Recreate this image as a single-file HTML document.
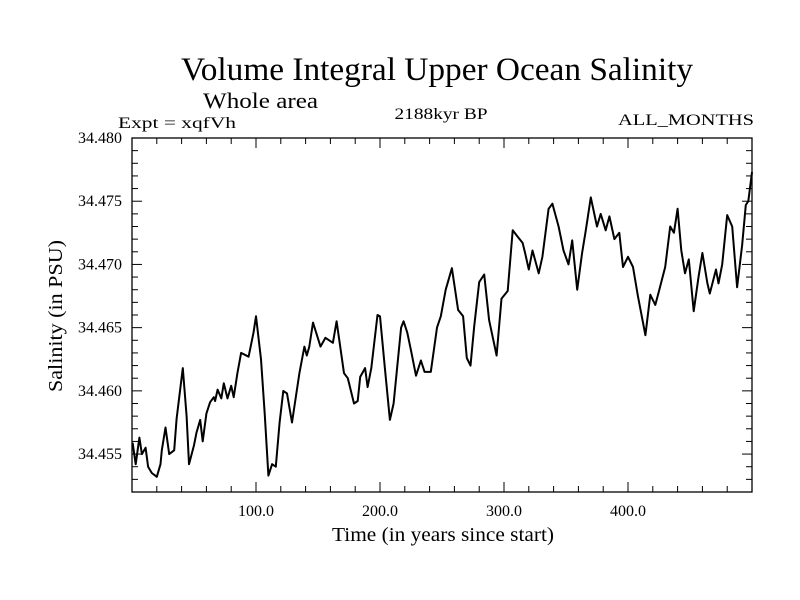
<!DOCTYPE html>
<html><head><meta charset="utf-8"><style>
body{margin:0;background:#fff}
svg{display:block;font-family:"Liberation Serif",serif}
</style></head><body>
<svg id="chart" width="800" height="600" viewBox="0 0 800 600">
<rect width="800" height="600" fill="#fff"/>
<text x="437" y="80" font-size="33" text-anchor="middle" textLength="512" lengthAdjust="spacingAndGlyphs">Volume Integral Upper Ocean Salinity</text>
<text x="203" y="108" font-size="22" textLength="115" lengthAdjust="spacingAndGlyphs">Whole area</text>
<text x="118" y="128" font-size="16" textLength="118" lengthAdjust="spacingAndGlyphs">Expt = xqfVh</text>
<text x="441" y="119" font-size="16" text-anchor="middle" textLength="93" lengthAdjust="spacingAndGlyphs">2188kyr BP</text>
<text x="754" y="125" font-size="16" text-anchor="end" textLength="136" lengthAdjust="spacingAndGlyphs">ALL_MONTHS</text>
<g id="axes"></g>
<text x="443" y="541" font-size="20" text-anchor="middle" textLength="222" lengthAdjust="spacingAndGlyphs">Time (in years since start)</text>
<text transform="translate(62,316) rotate(-90)" font-size="20" text-anchor="middle" textLength="152" lengthAdjust="spacingAndGlyphs">Salinity (in PSU)</text>
</svg>
<script>
const years=[0.5,3,6,8,11,13,16,20,23,24,27,30,34,36,41,44,46,50,52,55,57,60,63,66,67,69,72,74,77,80,82,85,88,94,98,100,104,107,110,113,116,119,122,125,129,135,139,141,143,146,152,156,162,165,171,174,179,182,184,188,190,193,198,200,204,208,211,217,219,222,225,229,233,236,241,246,249,253,258,263,267,270,273,276,280,284,288,294,298,303,307,311,315,317,320,323,328,331,336,339,344,348,352,355,359,363,366,370,375,378,382,385,389,393,396,400,404,408,414,418,422,425,430,434,437,440,443,446,449,453,457,460,464,466,471,473,476,480,484,488,492,495,497,500];
const salinity=[34.4559,34.4542,34.4563,34.4550,34.4555,34.4540,34.4535,34.4532,34.4542,34.4553,34.4571,34.4550,34.4553,34.4578,34.4618,34.4580,34.4542,34.4557,34.4567,34.4577,34.4560,34.4582,34.4591,34.4595,34.4592,34.4601,34.4594,34.4606,34.4594,34.4604,34.4595,34.4614,34.4630,34.4627,34.4646,34.4659,34.4625,34.4582,34.4533,34.4542,34.4540,34.4575,34.4600,34.4598,34.4575,34.4614,34.4635,34.4628,34.4635,34.4654,34.4635,34.4642,34.4638,34.4655,34.4614,34.4610,34.4590,34.4592,34.4611,34.4618,34.4603,34.4618,34.4660,34.4659,34.4617,34.4577,34.4590,34.4650,34.4655,34.4646,34.4632,34.4612,34.4624,34.4615,34.4615,34.4650,34.4659,34.4680,34.4697,34.4664,34.4659,34.4626,34.4620,34.4651,34.4686,34.4692,34.4656,34.4628,34.4673,34.4679,34.4727,34.4722,34.4717,34.4709,34.4696,34.4711,34.4693,34.4706,34.4744,34.4748,34.4730,34.4711,34.4700,34.4719,34.4680,34.4709,34.4727,34.4753,34.4730,34.4740,34.4727,34.4738,34.4720,34.4725,34.4698,34.4706,34.4698,34.4675,34.4644,34.4676,34.4668,34.4679,34.4698,34.4730,34.4725,34.4744,34.4711,34.4693,34.4704,34.4663,34.4691,34.4709,34.4685,34.4677,34.4696,34.4685,34.4700,34.4739,34.4730,34.4682,34.4715,34.4747,34.4750,34.4773];
const xTicks=[100,200,300,400];
const xTickLabels=["100.0","200.0","300.0","400.0"];
const yTicks=[34.455,34.460,34.465,34.470,34.475,34.480];
const yTickLabels=["34.455","34.460","34.465","34.470","34.475","34.480"];

const L=132,R=752,T=138,B=492;
const X0=0,X1=500,Y0=34.452,Y1=34.480;
const xs=v=>L+(v-X0)/(X1-X0)*(R-L);
const ys=v=>B-(v-Y0)/(Y1-Y0)*(B-T);
const NS="http://www.w3.org/2000/svg";
const g=document.getElementById('axes');
function mk(tag,attrs){const e=document.createElementNS(NS,tag);for(const k in attrs)e.setAttribute(k,attrs[k]);g.appendChild(e);return e;}
const frame=mk('rect',{x:L,y:T,width:R-L,height:B-T,fill:'none',stroke:'#000','stroke-width':1.3});


// minor x ticks every 20 years
for(let v=20;v<X1;v+=20){
  const major=v%100===0, len=major?10:6;
  const t1=mk('line',{x1:xs(v),x2:xs(v),y1:B,y2:B-len,stroke:'#000','stroke-width':1});
  
  
  const t2=mk('line',{x1:xs(v),x2:xs(v),y1:T,y2:T+len,stroke:'#000','stroke-width':1});
  
  
}
xTicks.forEach((v,i)=>{
  const t=mk('text',{x:xs(v),y:B+24,'font-size':16,'text-anchor':'middle'});
  t.textContent=xTickLabels[i];
  
  
});
for(let k=0;k<=28;k++){
  const v=Y0+k*0.001; if(v>Y1+1e-9)break;
  const major=Math.abs(Math.round(v*200)-v*200)<1e-6, len=major?10:6;
  const t1=mk('line',{x1:L,x2:L+len,y1:ys(v),y2:ys(v),stroke:'#000','stroke-width':1});
  
  
  const t2=mk('line',{x1:R,x2:R-len,y1:ys(v),y2:ys(v),stroke:'#000','stroke-width':1});
  
  
}
yTicks.forEach((v,i)=>{
  const t=mk('text',{x:L-10,y:ys(v)+5,'font-size':16,'text-anchor':'end'});
  t.textContent=yTickLabels[i];
  
  
});
const d=years.map((y,i)=>(i?'L':'M')+xs(y).toFixed(1)+','+ys(salinity[i]).toFixed(1)).join('');
const line=mk('path',{d:d,fill:'none',stroke:'#000','stroke-width':2,'stroke-linejoin':'round'});


</script>
</body></html>
